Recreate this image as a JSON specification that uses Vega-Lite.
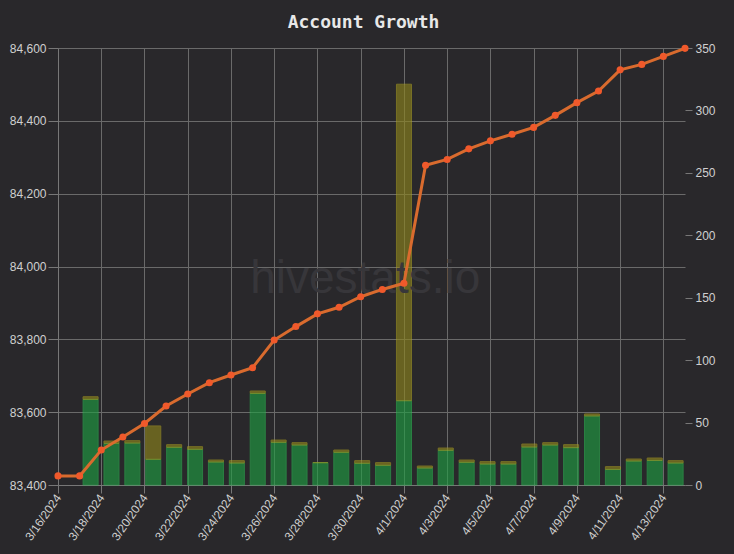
{
  "$schema": "https://vega.github.io/schema/vega-lite/v6.json",
  "width": 627,
  "height": 437,
  "autosize": {"type": "none"},
  "padding": {"left": 58, "top": 48, "right": 49, "bottom": 69},
  "background": "#29282b",
  "config": {
    "view": {"stroke": null},
    "font": "Liberation Sans",
    "axis": {"labelColor": "#d0d0d0", "labelFontSize": 12, "gridColor": "#6a6a6a", "gridOpacity": 1, "tickColor": "#777777", "domainColor": "#777777", "labelOverlap": false}
  },
  "title": {"text": "Account Growth", "font": "DejaVu Sans Mono", "fontSize": 18, "fontWeight": "bold", "color": "#e8e8e8", "offset": 10, "anchor": "middle", "dx": -8},
  "datasets": {
    "balance": [
      {"date": "2024-03-16", "balance": 83425},
      {"date": "2024-03-17", "balance": 83425},
      {"date": "2024-03-18", "balance": 83496},
      {"date": "2024-03-19", "balance": 83532},
      {"date": "2024-03-20", "balance": 83569},
      {"date": "2024-03-21", "balance": 83617},
      {"date": "2024-03-22", "balance": 83650},
      {"date": "2024-03-23", "balance": 83681},
      {"date": "2024-03-24", "balance": 83702},
      {"date": "2024-03-25", "balance": 83722},
      {"date": "2024-03-26", "balance": 83798},
      {"date": "2024-03-27", "balance": 83835},
      {"date": "2024-03-28", "balance": 83870},
      {"date": "2024-03-29", "balance": 83888},
      {"date": "2024-03-30", "balance": 83917},
      {"date": "2024-03-31", "balance": 83937},
      {"date": "2024-04-01", "balance": 83954},
      {"date": "2024-04-02", "balance": 84278},
      {"date": "2024-04-03", "balance": 84294},
      {"date": "2024-04-04", "balance": 84323},
      {"date": "2024-04-05", "balance": 84345},
      {"date": "2024-04-06", "balance": 84363},
      {"date": "2024-04-07", "balance": 84382},
      {"date": "2024-04-08", "balance": 84415},
      {"date": "2024-04-09", "balance": 84450},
      {"date": "2024-04-10", "balance": 84482},
      {"date": "2024-04-11", "balance": 84540},
      {"date": "2024-04-12", "balance": 84555},
      {"date": "2024-04-13", "balance": 84577},
      {"date": "2024-04-14", "balance": 84599}
    ],
    "gains": [
      {"day": "2024-03-18", "kind": "Earned", "amount": 68.6}, {"day": "2024-03-18", "kind": "Powered Up", "amount": 2.1},
      {"day": "2024-03-19", "kind": "Earned", "amount": 33.4}, {"day": "2024-03-19", "kind": "Powered Up", "amount": 1.8},
      {"day": "2024-03-20", "kind": "Earned", "amount": 33.6}, {"day": "2024-03-20", "kind": "Powered Up", "amount": 1.9},
      {"day": "2024-03-21", "kind": "Earned", "amount": 20.6}, {"day": "2024-03-21", "kind": "Powered Up", "amount": 26.7},
      {"day": "2024-03-22", "kind": "Earned", "amount": 30.2}, {"day": "2024-03-22", "kind": "Powered Up", "amount": 2.1},
      {"day": "2024-03-23", "kind": "Earned", "amount": 28.6}, {"day": "2024-03-23", "kind": "Powered Up", "amount": 2.1},
      {"day": "2024-03-24", "kind": "Earned", "amount": 18.4}, {"day": "2024-03-24", "kind": "Powered Up", "amount": 1.6},
      {"day": "2024-03-25", "kind": "Earned", "amount": 17.6}, {"day": "2024-03-25", "kind": "Powered Up", "amount": 1.9},
      {"day": "2024-03-26", "kind": "Earned", "amount": 73.4}, {"day": "2024-03-26", "kind": "Powered Up", "amount": 1.9},
      {"day": "2024-03-27", "kind": "Earned", "amount": 34.2}, {"day": "2024-03-27", "kind": "Powered Up", "amount": 1.8},
      {"day": "2024-03-28", "kind": "Earned", "amount": 32.0}, {"day": "2024-03-28", "kind": "Powered Up", "amount": 1.9},
      {"day": "2024-03-29", "kind": "Earned", "amount": 17.9}, {"day": "2024-03-29", "kind": "Powered Up", "amount": 0},
      {"day": "2024-03-30", "kind": "Earned", "amount": 26.2}, {"day": "2024-03-30", "kind": "Powered Up", "amount": 1.8},
      {"day": "2024-03-31", "kind": "Earned", "amount": 17.4}, {"day": "2024-03-31", "kind": "Powered Up", "amount": 2.1},
      {"day": "2024-04-01", "kind": "Earned", "amount": 15.8}, {"day": "2024-04-01", "kind": "Powered Up", "amount": 2.1},
      {"day": "2024-04-02", "kind": "Earned", "amount": 67.5}, {"day": "2024-04-02", "kind": "Powered Up", "amount": 253.5},
      {"day": "2024-04-03", "kind": "Earned", "amount": 13.6}, {"day": "2024-04-03", "kind": "Powered Up", "amount": 1.6},
      {"day": "2024-04-04", "kind": "Earned", "amount": 27.8}, {"day": "2024-04-04", "kind": "Powered Up", "amount": 1.8},
      {"day": "2024-04-05", "kind": "Earned", "amount": 18.2}, {"day": "2024-04-05", "kind": "Powered Up", "amount": 1.8},
      {"day": "2024-04-06", "kind": "Earned", "amount": 16.8}, {"day": "2024-04-06", "kind": "Powered Up", "amount": 1.9},
      {"day": "2024-04-07", "kind": "Earned", "amount": 16.8}, {"day": "2024-04-07", "kind": "Powered Up", "amount": 1.9},
      {"day": "2024-04-08", "kind": "Earned", "amount": 30.4}, {"day": "2024-04-08", "kind": "Powered Up", "amount": 2.4},
      {"day": "2024-04-09", "kind": "Earned", "amount": 32.0}, {"day": "2024-04-09", "kind": "Powered Up", "amount": 1.9},
      {"day": "2024-04-10", "kind": "Earned", "amount": 29.9}, {"day": "2024-04-10", "kind": "Powered Up", "amount": 2.4},
      {"day": "2024-04-11", "kind": "Earned", "amount": 55.3}, {"day": "2024-04-11", "kind": "Powered Up", "amount": 1.6},
      {"day": "2024-04-12", "kind": "Earned", "amount": 12.5}, {"day": "2024-04-12", "kind": "Powered Up", "amount": 2.2},
      {"day": "2024-04-13", "kind": "Earned", "amount": 19.2}, {"day": "2024-04-13", "kind": "Powered Up", "amount": 1.6},
      {"day": "2024-04-14", "kind": "Earned", "amount": 19.7}, {"day": "2024-04-14", "kind": "Powered Up", "amount": 1.9},
      {"day": "2024-04-15", "kind": "Earned", "amount": 17.6}, {"day": "2024-04-15", "kind": "Powered Up", "amount": 1.9}
    ],
    "watermark": [
      {"label": "hivestats.io", "date": "2024-03-30T05:00:00Z", "balance": 83927}
    ]
  },
  "layer": [
    {
      "data": {"name": "gains"},
      "mark": {"type": "bar", "opacity": 0.62, "strokeWidth": 1},
      "encoding": {
        "x": {"field": "day", "type": "ordinal", "scale": {"type": "band", "paddingInner": 0.28, "paddingOuter": 0.645, "align": 0.93}, "axis": null},
        "y": {"field": "amount", "type": "quantitative", "stack": "zero", "scale": {"domain": [0, 350], "nice": false},
              "axis": {"orient": "right", "values": [0, 50, 100, 150, 200, 250, 300, 350], "grid": false, "domain": false, "tickSize": 7, "tickOffset": 0, "labelPadding": 3, "title": null}},
        "color": {"field": "kind", "type": "nominal", "scale": {"domain": ["Earned", "Powered Up"], "range": ["#1fa043", "#8f861c"]}, "legend": null},
        "stroke": {"field": "kind", "type": "nominal", "scale": {"domain": ["Earned", "Powered Up"], "range": ["#2cb552", "#a89c22"]}, "legend": null},
        "order": {"field": "kind", "sort": "ascending"}
      }
    },
    {
      "layer": [
        {
          "data": {"name": "watermark"},
          "mark": {"type": "text", "font": "Liberation Sans", "fontSize": 46, "color": "#37363a", "align": "center", "baseline": "alphabetic"},
          "encoding": {
            "x": {"field": "date", "type": "temporal"},
            "y": {"field": "balance", "type": "quantitative"},
            "text": {"field": "label"}
          }
        },
        {
          "data": {"name": "balance"},
          "mark": {"type": "line", "color": "#d96b2e", "strokeWidth": 3, "point": {"filled": true, "color": "#f0592b", "size": 50, "opacity": 1}},
          "encoding": {
            "x": {"field": "date", "type": "temporal",
                  "scale": {"type": "utc", "domain": [{"year": 2024, "month": 3, "date": 16, "utc": true}, {"year": 2024, "month": 4, "date": 14, "utc": true}], "nice": false},
                  "axis": {"title": null, "format": "%-m/%-d/%Y", "labelAngle": -55, "grid": true, "tickSize": 8, "labelPadding": 2, "labelOverlap": false,
                           "values": [
                             {"year": 2024, "month": 3, "date": 16, "utc": true}, {"year": 2024, "month": 3, "date": 18, "utc": true},
                             {"year": 2024, "month": 3, "date": 20, "utc": true}, {"year": 2024, "month": 3, "date": 22, "utc": true},
                             {"year": 2024, "month": 3, "date": 24, "utc": true}, {"year": 2024, "month": 3, "date": 26, "utc": true},
                             {"year": 2024, "month": 3, "date": 28, "utc": true}, {"year": 2024, "month": 3, "date": 30, "utc": true},
                             {"year": 2024, "month": 4, "date": 1, "utc": true}, {"year": 2024, "month": 4, "date": 3, "utc": true},
                             {"year": 2024, "month": 4, "date": 5, "utc": true}, {"year": 2024, "month": 4, "date": 7, "utc": true},
                             {"year": 2024, "month": 4, "date": 9, "utc": true}, {"year": 2024, "month": 4, "date": 11, "utc": true},
                             {"year": 2024, "month": 4, "date": 13, "utc": true}
                           ]}},
            "y": {"field": "balance", "type": "quantitative",
                  "scale": {"domain": [83400, 84600], "nice": false, "zero": false},
                  "axis": {"orient": "left", "title": null, "values": [83400, 83600, 83800, 84000, 84200, 84400, 84600], "format": ",d", "tickSize": 10, "grid": true, "domain": true, "labelPadding": 2}}
          }
        }
      ]
    }
  ],
  "resolve": {"scale": {"x": "independent", "y": "independent"}}
}
